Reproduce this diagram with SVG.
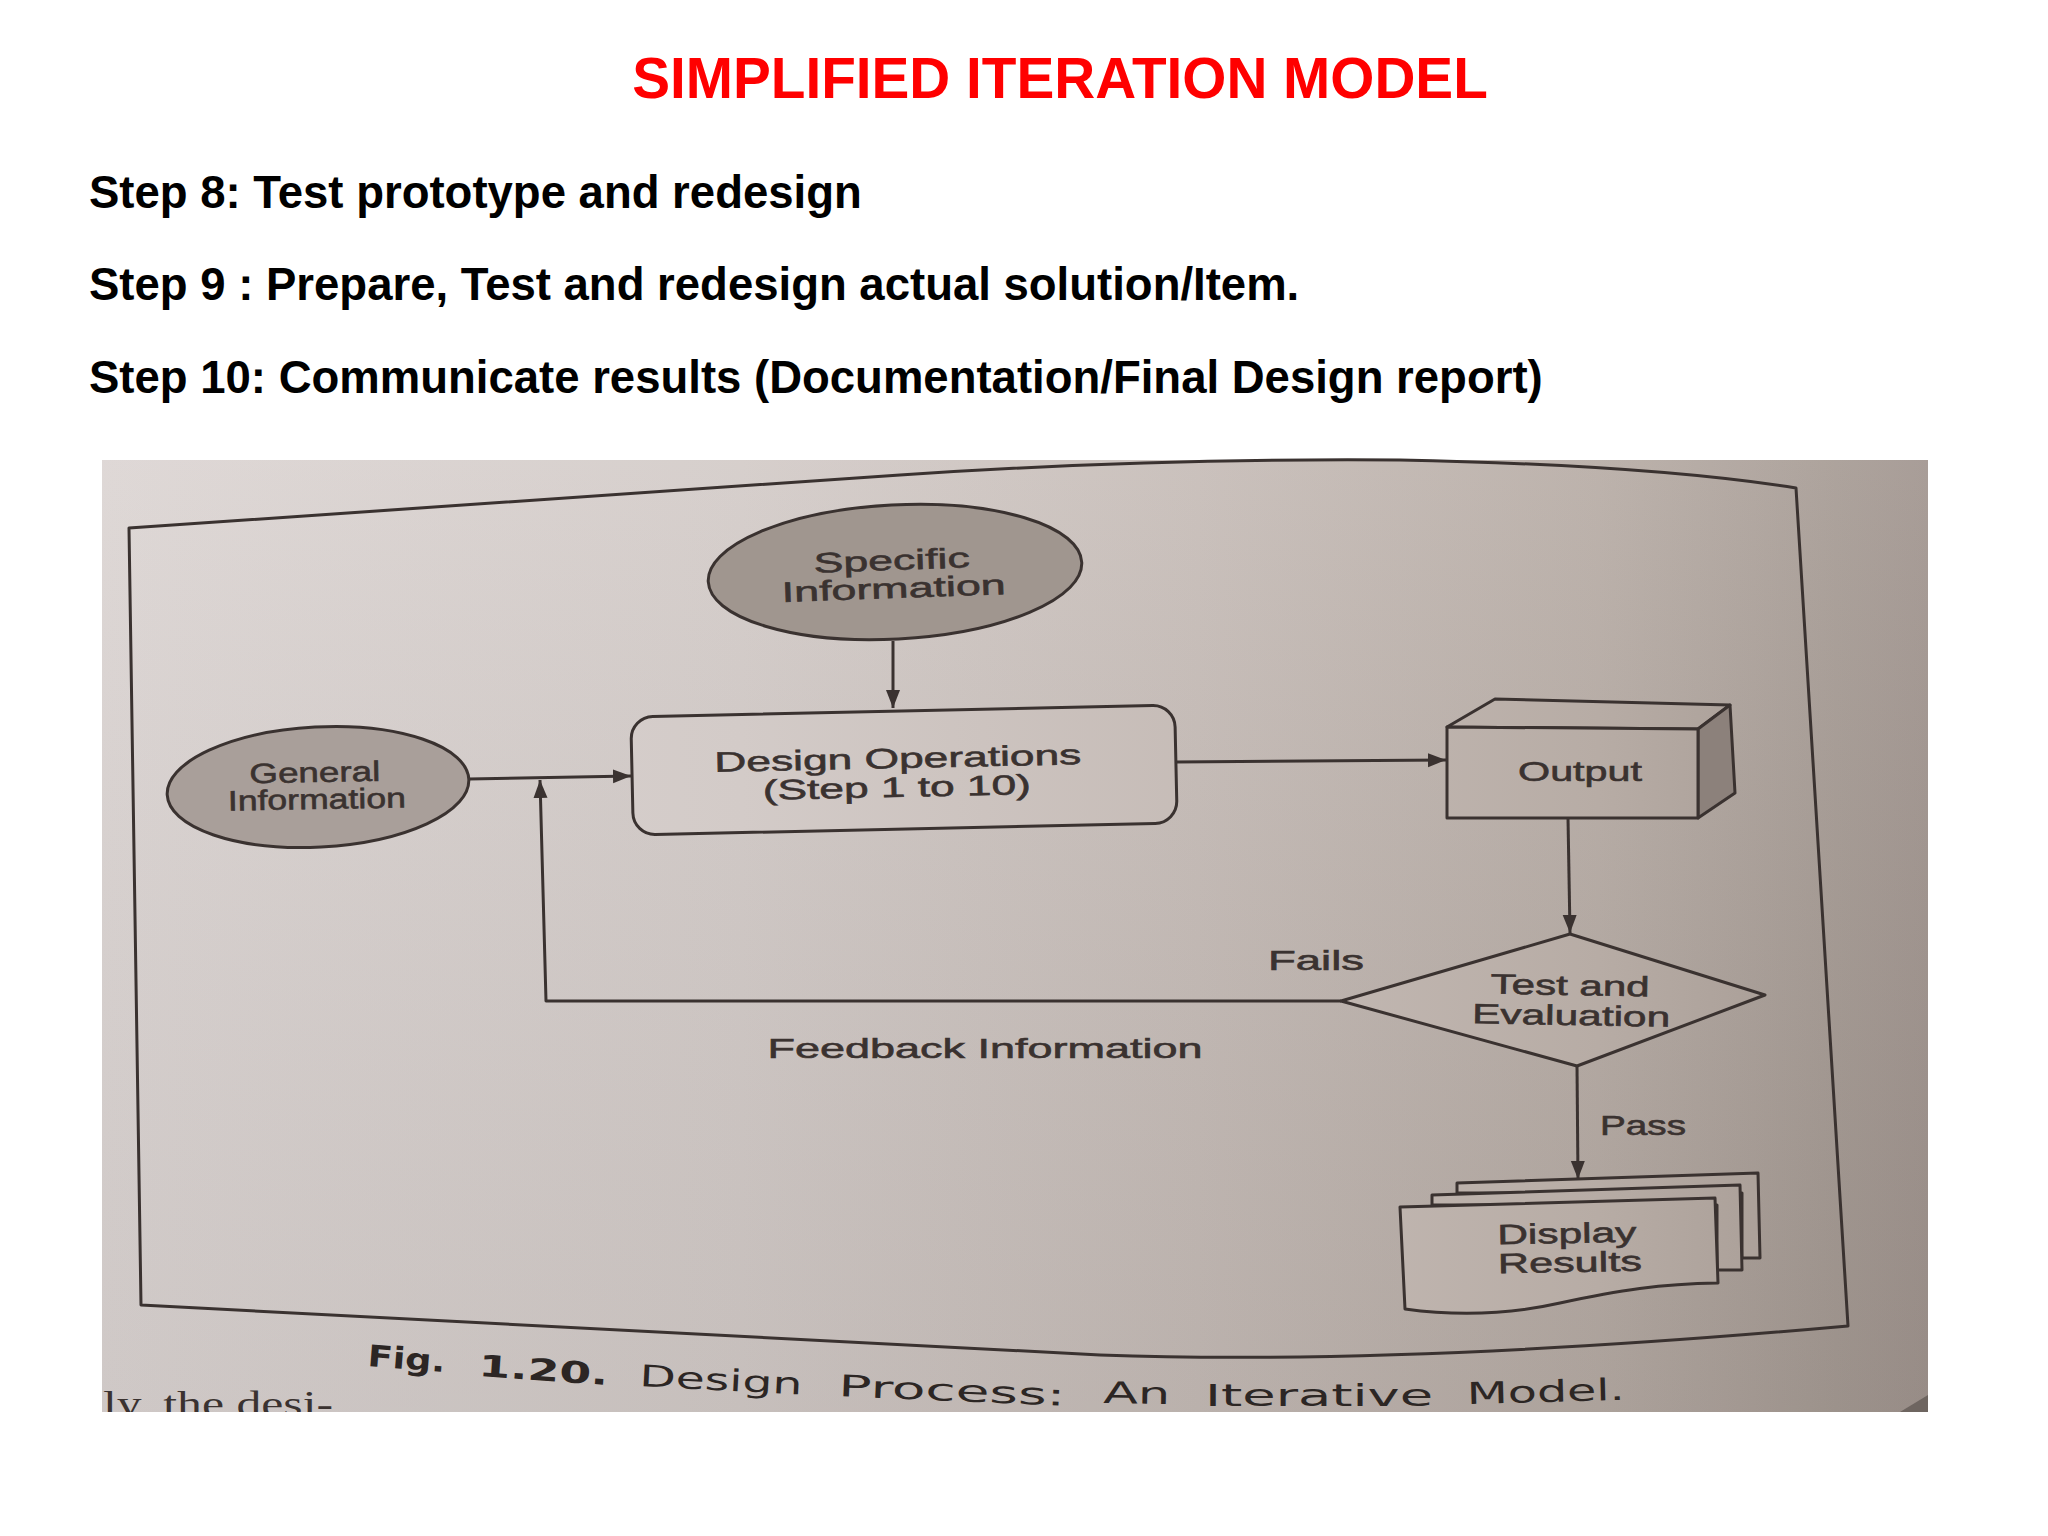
<svg xmlns="http://www.w3.org/2000/svg" width="2048" height="1536" viewBox="0 0 2048 1536">
<style>
.head{font-family:"Liberation Sans",Arial,sans-serif;font-weight:bold;}
.step{font-family:"Liberation Sans",Arial,sans-serif;font-weight:bold;font-size:45.5px;fill:#000;}
.lbl{font-family:"Liberation Sans",Arial,sans-serif;font-size:28px;fill:#3a3230;stroke:#3a3230;stroke-width:0.6;text-anchor:middle;}
.cap{font-family:"DejaVu Sans","Liberation Sans",sans-serif;font-size:30px;fill:#2c2624;}
.ln{fill:none;stroke:#3a3230;stroke-width:3;stroke-linejoin:round;}
.shape{stroke:#3a3230;stroke-width:3;stroke-linejoin:round;}
</style>
<defs>
<linearGradient id="paper" gradientUnits="userSpaceOnUse" x1="102" y1="0" x2="1928" y2="0">
<stop offset="0" stop-color="#dcd5d3"/>
<stop offset="0.35" stop-color="#d3cbc8"/>
<stop offset="0.6" stop-color="#c6bcb7"/>
<stop offset="0.82" stop-color="#b7aca5"/>
<stop offset="0.95" stop-color="#a69b94"/>
<stop offset="1" stop-color="#a1958f"/>
</linearGradient>
<linearGradient id="shade" gradientUnits="userSpaceOnUse" x1="0" y1="460" x2="0" y2="1412">
<stop offset="0" stop-color="#ffffff" stop-opacity="0.08"/>
<stop offset="1" stop-color="#000000" stop-opacity="0.06"/>
</linearGradient>
<clipPath id="photoClip"><rect x="102" y="460" width="1826" height="952"/></clipPath>
<marker id="arr" markerUnits="userSpaceOnUse" markerWidth="20" markerHeight="16" refX="18" refY="7" orient="auto">
<path d="M0,0 L18,7 L0,14 Z" fill="#3a3230"/>
</marker>
</defs>
<rect width="2048" height="1536" fill="#ffffff"/>
<g id="header">
<text class="head" x="1060" y="98" font-size="56.7" fill="#ff0000" text-anchor="middle">SIMPLIFIED ITERATION MODEL</text>
<text class="step" x="89" y="208">Step 8: Test prototype and redesign</text>
<text class="step" x="89" y="300">Step 9 : Prepare, Test and redesign actual solution/Item.</text>
<text class="step" x="89" y="393">Step 10: Communicate results (Documentation/Final Design report)</text>
</g>
<g id="photo">
<rect x="102" y="460" width="1826" height="952" fill="url(#paper)"/>
<rect x="102" y="460" width="1826" height="952" fill="url(#shade)"/>
<polygon points="1900,1412 1928,1395 1928,1412" fill="#6e6560"/>
<path class="ln" d="M129,528 L900,475 Q1150,458 1400,460 Q1650,465 1796,488 L1848,1326 Q1400,1366 1100,1355 L141,1305 Z"/>
</g>
<g id="connectors">
<path class="ln" d="M893,641 L893,708" marker-end="url(#arr)"/>
<path class="ln" d="M469,779 L631,776" marker-end="url(#arr)"/>
<path class="ln" d="M1176,762 L1446,760" marker-end="url(#arr)"/>
<path class="ln" d="M1568,818 L1570,933" marker-end="url(#arr)"/>
<path class="ln" d="M1341,1001 L546,1001 L540,780" marker-end="url(#arr)"/>
<path class="ln" d="M1577,1066 L1578,1179" marker-end="url(#arr)"/>
<text class="lbl" x="1316" y="970" textLength="96" lengthAdjust="spacingAndGlyphs">Fails</text>
<text class="lbl" x="985" y="1058" textLength="435" lengthAdjust="spacingAndGlyphs">Feedback Information</text>
<text class="lbl" x="1643" y="1135" textLength="86" lengthAdjust="spacingAndGlyphs">Pass</text>
</g>
<g id="specific-information">
<ellipse class="shape" cx="895" cy="572" rx="187" ry="67" fill="#a0968f" transform="rotate(-3 895 572)"/>
<text class="lbl" x="892" y="570" textLength="156" lengthAdjust="spacingAndGlyphs" transform="rotate(-2 892 570)">Specific</text>
<text class="lbl" x="894" y="598" textLength="224" lengthAdjust="spacingAndGlyphs" transform="rotate(-2 894 598)">Information</text>
</g>
<g id="general-information">
<ellipse class="shape" cx="318" cy="787" rx="151" ry="60" fill="#a99f9a" transform="rotate(-3 318 787)"/>
<text class="lbl" x="315" y="782" textLength="131" lengthAdjust="spacingAndGlyphs" transform="rotate(-1 315 782)">General</text>
<text class="lbl" x="317" y="809" textLength="178" lengthAdjust="spacingAndGlyphs" transform="rotate(-1 317 809)">Information</text>
</g>
<g id="design-operations">
<rect class="shape" x="632" y="711" width="544" height="118" rx="22" fill="url(#paper)" transform="rotate(-1.26 904 770)"/>
<text class="lbl" x="898" y="768" textLength="367" lengthAdjust="spacingAndGlyphs" transform="rotate(-1.2 898 768)">Design Operations</text>
<text class="lbl" x="897" y="797" textLength="268" lengthAdjust="spacingAndGlyphs" transform="rotate(-1.2 897 797)">(Step 1 to 10)</text>
</g>
<g id="output">
<polygon class="shape" points="1447,727 1495,699 1730,705 1698,729" fill="url(#paper)"/>
<polygon class="shape" points="1698,729 1730,705 1735,793 1698,818" fill="#8c817b"/>
<polygon class="shape" points="1447,727 1698,729 1698,818 1447,818" fill="url(#paper)"/>
<text class="lbl" x="1580" y="781" textLength="124" lengthAdjust="spacingAndGlyphs">Output</text>
</g>
<g id="test-and-evaluation">
<polygon class="shape" points="1570,934 1765,995 1577,1066 1341,1001" fill="url(#paper)"/>
<text class="lbl" x="1570" y="995" textLength="159" lengthAdjust="spacingAndGlyphs" transform="rotate(1 1570 995)">Test and</text>
<text class="lbl" x="1571" y="1025" textLength="198" lengthAdjust="spacingAndGlyphs" transform="rotate(1 1571 1025)">Evaluation</text>
</g>
<g id="display-results">
<polygon class="shape" points="1457,1193 1457,1183 1758,1173 1760,1258 1742,1258 1742,1193" fill="url(#paper)"/>
<polygon class="shape" points="1432,1205 1432,1195 1740,1185 1742,1270 1717,1270 1717,1205" fill="url(#paper)"/>
<path class="shape" d="M1400,1207 L1715,1198 L1718,1283 C1660,1284 1620,1290 1560,1303 C1520,1312 1470,1318 1405,1309 Z" fill="url(#paper)"/>
<text class="lbl" x="1567" y="1243" textLength="139" lengthAdjust="spacingAndGlyphs" transform="rotate(-1 1567 1243)">Display</text>
<text class="lbl" x="1570" y="1272" textLength="144" lengthAdjust="spacingAndGlyphs" transform="rotate(-1 1570 1272)">Results</text>
</g>
<g id="caption">
<text class="cap" x="367" y="1366" font-weight="bold" textLength="78" lengthAdjust="spacingAndGlyphs" transform="rotate(4.5 367 1366)">Fig.</text>
<text class="cap" x="478" y="1376" font-weight="bold" textLength="130" lengthAdjust="spacingAndGlyphs" transform="rotate(4 478 1376)">1.20.</text>
<text class="cap" x="639" y="1386" textLength="163" lengthAdjust="spacingAndGlyphs" transform="rotate(3 639 1386)">Design</text>
<text class="cap" x="838" y="1396" textLength="227" lengthAdjust="spacingAndGlyphs" transform="rotate(2.5 838 1396)">Process:</text>
<text class="cap" x="1103" y="1403" textLength="67" lengthAdjust="spacingAndGlyphs" transform="rotate(1 1103 1403)">An</text>
<text class="cap" x="1205" y="1406" textLength="228" lengthAdjust="spacingAndGlyphs">Iterative</text>
<text class="cap" x="1467" y="1404" textLength="158" lengthAdjust="spacingAndGlyphs" transform="rotate(-1.5 1467 1404)">Model.</text>
<g clip-path="url(#photoClip)">
<text x="103" y="1416" font-family="'Liberation Serif',serif" font-size="36" fill="#3a3230" textLength="230" lengthAdjust="spacingAndGlyphs">ly, the desi-</text>
</g>
</g>
</svg>
